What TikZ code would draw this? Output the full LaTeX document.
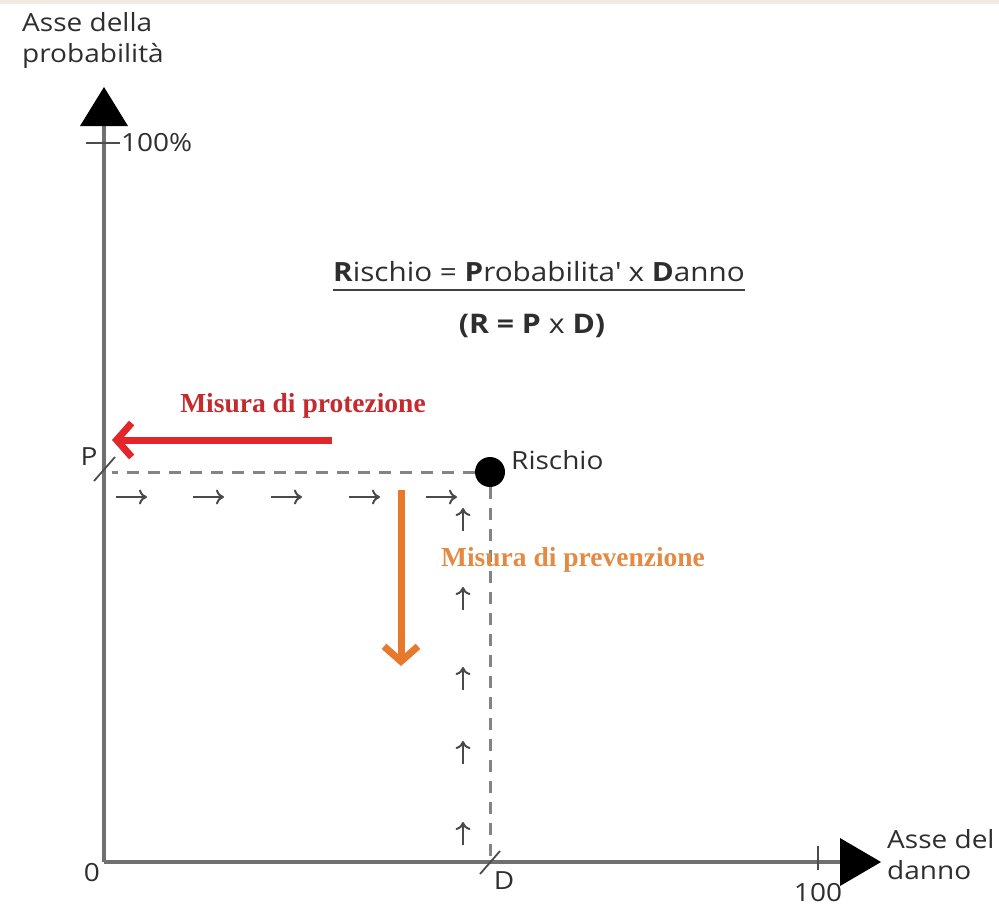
\documentclass[tikz,border=0pt]{standalone}
\usepackage{fontspec}
\setmainfont[FakeStretch=1.12]{Open Sans}
\newfontfamily\serifb{Liberation Serif}
\usetikzlibrary{arrows.meta}
\definecolor{axisgray}{HTML}{707070}
\definecolor{dashgray}{HTML}{848484}
\definecolor{arrgray}{HTML}{4A4A4A}
\definecolor{redarr}{HTML}{E3262A}
\definecolor{redtxt}{HTML}{C42A2E}
\definecolor{orarr}{HTML}{E8792C}
\definecolor{ortxt}{HTML}{E38A45}
\definecolor{topband}{HTML}{EEEBE0}
\tikzset{
  axis/.style={draw=axisgray, line width=4pt},
  axtip/.style={fill=black, draw=none},
  tickmark/.style={draw=black!70, line width=1.8pt},
  guide/.style={draw=dashgray, line width=3pt, dash pattern=on 12pt off 9pt},
  smallarr/.style={draw=arrgray, line width=2pt, -{To[length=8pt,width=15pt]}},
  lbl/.style={font=\fontsize{25}{31}\selectfont, text=black!82, inner sep=0pt},
  redlbl/.style={font=\serifb\bfseries\fontsize{27.5}{30}\selectfont, text=redtxt, inner sep=0pt},
  orlbl/.style={font=\serifb\bfseries\fontsize{27.5}{30}\selectfont, text=ortxt, inner sep=0pt},
  bigarrow/.style={line width=7pt, -{Straight Barb[length=15pt, width=34pt, line width=7pt]}}
}
\begin{document}
\begin{tikzpicture}[x=1pt, y=-1pt]
\useasboundingbox (0,0) rectangle (999,914);
\fill[topband] (0,0) rectangle (999,4);
% key points
\coordinate (O) at (104,862);
\coordinate (Ytop) at (104,120);
\coordinate (Xend) at (845,862);
\coordinate (Ppt) at (112,469);
\coordinate (Dpt) at (490,856);
% axes
\draw[axis] (O) -- (Ytop);
\draw[axis] (O) -- (Xend);
\fill[axtip] (104,87) -- (128,126) -- (80,126) -- cycle;
\fill[axtip] (881,862) -- (840,838) -- (840,886) -- cycle;
% ticks
\draw[tickmark] (86,143) -- (120,143);
\draw[tickmark] (818,846) -- (818,870);
\draw[tickmark] (94,481) -- (115,457);
\draw[tickmark] (480,874) -- (500,851);
% axis labels
\node[lbl, anchor=west] (t100) at (121,143) {100\%};
\node[lbl, anchor=north west, align=left] (ylab) at (22,12) {Asse della\\probabilità};
\node[lbl, anchor=north west, align=left] (xlab) at (887,829) {Asse del\\danno};
\node[lbl] (zero) at (92,873) {0};
\node[lbl] (x100) at (818,893) {100};
\node[lbl] (Dlab) at (504,881) {D};
\node[lbl] (Plab) at (89,457) {P};
% formula
\node[lbl, font=\fontsize{26.5}{32}\selectfont] (form) at (539,272) {\textbf{R}ischio = \textbf{P}robabilita\textquotesingle{} x \textbf{D}anno};
\draw[draw=black!75, line width=2pt] (333,290) -- (745,290);
\node[lbl, font=\fontsize{27}{32}\selectfont] (form2) at (532,326) {\textbf{(R = P} x \textbf{D)}};
% risk point
\node[circle, fill=black, minimum size=30pt, inner sep=0pt] (R) at (490,472) {};
\node[lbl, anchor=west] (Rlab) at (511,460) {Rischio};
% guides
\draw[guide] (R.west) -- (R.west -| Ppt);
\draw[guide] (R.south) -- (R.south |- Dpt);
% small arrows
\foreach \x in {116,193,271,349,426}{
  \draw[smallarr] (\x,497) -- ++(31,0);
}
\foreach \y in {531,610,690,764,845}{
  \draw[smallarr] (463,\y) -- ++(0,-23);
}
% big arrows
\coordinate (redS) at (332,440);
\coordinate (redE) at (112,440);
\draw[bigarrow, redarr] (redS) -- (redE);
\node[redlbl] (prot) at (303,406) {Misura di protezione};
\coordinate (orS) at (401,490);
\coordinate (orE) at (401,666);
\draw[bigarrow, orarr] (orS) -- (orE);
\node[orlbl] (prev) at (573,560) {Misura di prevenzione};
\end{tikzpicture}
\end{document}
